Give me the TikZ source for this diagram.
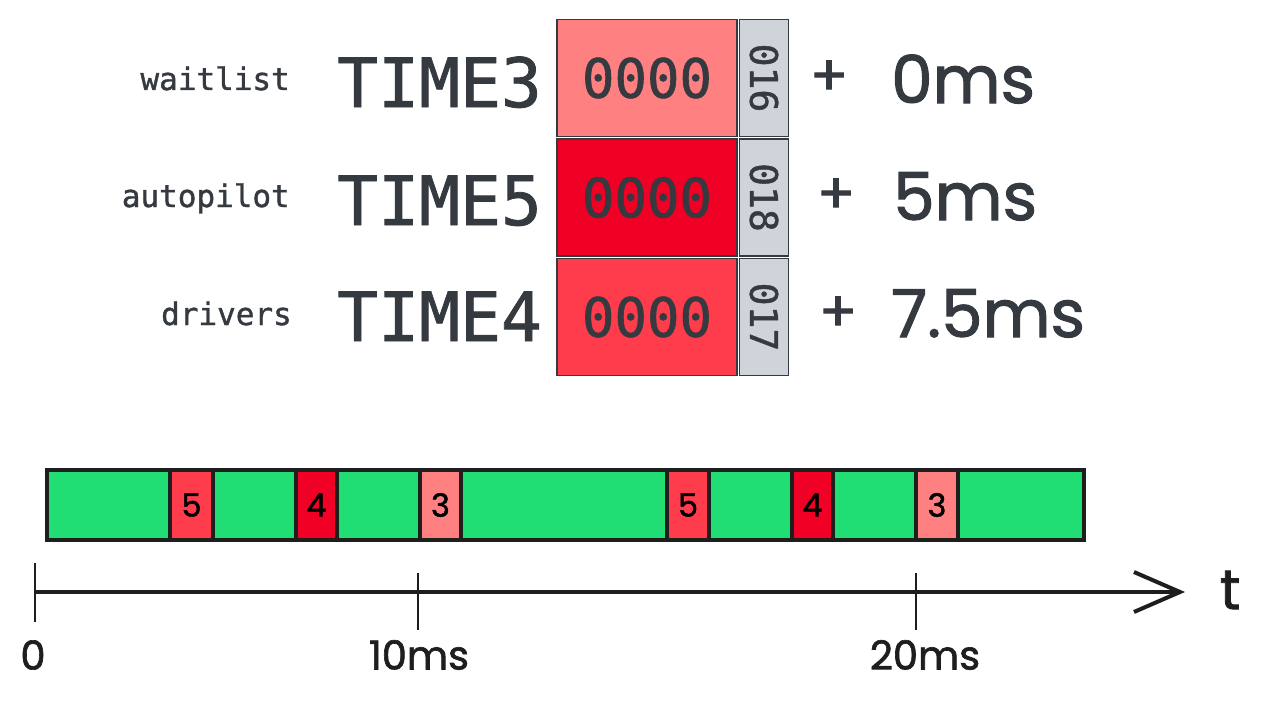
\documentclass[tikz,border=0pt]{standalone}
\usepackage{fontspec}
\setmonofont{DejaVu Sans Mono}[FakeBold=1.2]
\newfontfamily\handfont{Poppins}[FakeBold=1.6]
\usetikzlibrary{positioning,arrows.meta}
\definecolor{ink}{HTML}{343A40}
\definecolor{barink}{HTML}{1E1E1E}
\definecolor{slotgreen}{HTML}{20DE73}
\definecolor{pinkred}{HTML}{FF8080}
\definecolor{deepred}{HTML}{F00024}
\definecolor{midred}{HTML}{FF3C4B}
\definecolor{taggray}{HTML}{CED4DA}
\newcommand\fsz[1]{\fontsize{#1}{#1}\selectfont}

\begin{document}
\begin{tikzpicture}[x=1pt,y=-1pt,
  cell/.style={draw=ink, line width=1.5pt, minimum width=180pt, minimum height=117pt, inner sep=0pt, text=ink, font=\ttfamily\fsz{54}},
  tagbox/.style={draw=ink, fill=taggray, line width=1.5pt, minimum width=49pt, minimum height=117pt, inner sep=0pt, text=ink, font=\ttfamily\fsz{38}},
  task/.style={anchor=base east, inner sep=0pt, text=ink, font=\ttfamily\fsz{31}},
  timer/.style={anchor=base west, inner sep=0pt, text=ink, font=\ttfamily\fsz{68}},
  plus/.style={text=ink, font=\handfont\fsz{56}},
  delay/.style={anchor=base west, inner sep=0pt, text=ink, font=\handfont\fsz{66}},
  slot/.style={draw=barink, line width=4pt, minimum height=70pt, inner sep=0pt, font=\handfont\fsz{32}},
  tick/.style={barink, line width=2.5pt},
  lbl/.style={text=barink, font=\handfont\fsz{40}}]
\useasboundingbox (0,0) rectangle (1267,701);

% timers and their compare registers
\node[cell, fill=pinkred] (c3) at (647,78) {0000};
\node[cell, fill=deepred, below=1pt of c3] (c5) {0000};
\node[cell, fill=midred, below=1pt of c5] (c4) {0000};
\node[tagbox, right=1pt of c3] (g16) {\rotatebox{-90}{016}};
\node[tagbox, right=1pt of c5] (g18) {\rotatebox{-90}{018}};
\node[tagbox, right=1pt of c4] (g17) {\rotatebox{-90}{017}};

\node[timer] (t3) at (337,107) {TIME3};
\node[timer] (t5) at (337,225) {TIME5};
\node[timer] (t4) at (337,341) {TIME4};
\node[task] (waitlist) at (290,90) {waitlist};
\node[task] (autopilot) at (290,207) {autopilot};
\node[task] (drivers) at (292,325) {drivers};

\node[plus] (p3) at (829,78) {+};
\node[plus] (p5) at (836,196) {+};
\node[plus] (p4) at (838,314) {+};
\node[delay] (d3) at (891,103) {0ms};
\node[delay] (d5) at (893,220) {5ms};
\node[delay] (d4) at (891,337) {7.5ms};

% schedule bar
\foreach \a/\b/\c/\t [count=\i] in {47/170/slotgreen/{},170/213/midred/5,213/296/slotgreen/{},
  296/337/deepred/4,337/420/slotgreen/{},420/461/pinkred/3,461/667/slotgreen/{},
  667/709/midred/5,709/792/slotgreen/{},792/833/deepred/4,833/916/slotgreen/{},
  916/958/pinkred/3,958/1084/slotgreen/{}}
  \node[slot, fill=\c, minimum width={(\b-\a)*1pt}] (s\i) at ({(\a+\b)/2},505) {\t};

% time axis
\coordinate (t0) at (35,592);
\coordinate (tend) at (1185,592);
\coordinate (k10) at (418,592);
\coordinate (k20) at (916,592);
\draw[barink, line width=4pt, -{Straight Barb[length=46pt,width=40pt]}] (t0) -- (tend);
\draw[tick] (t0)++(0,-29) -- ++(0,59) (k10)++(0,-19) -- ++(0,57) (k20)++(0,-19) -- ++(0,57);
\node[lbl, font=\handfont\fsz{56}] (tlab) at (1230,590) {t};
\node[lbl] (l0) at (33,655) {0};
\node[lbl] (l10) at (419,655) {10ms};
\node[lbl] (l20) at (925,655) {20ms};
\end{tikzpicture}
\end{document}
